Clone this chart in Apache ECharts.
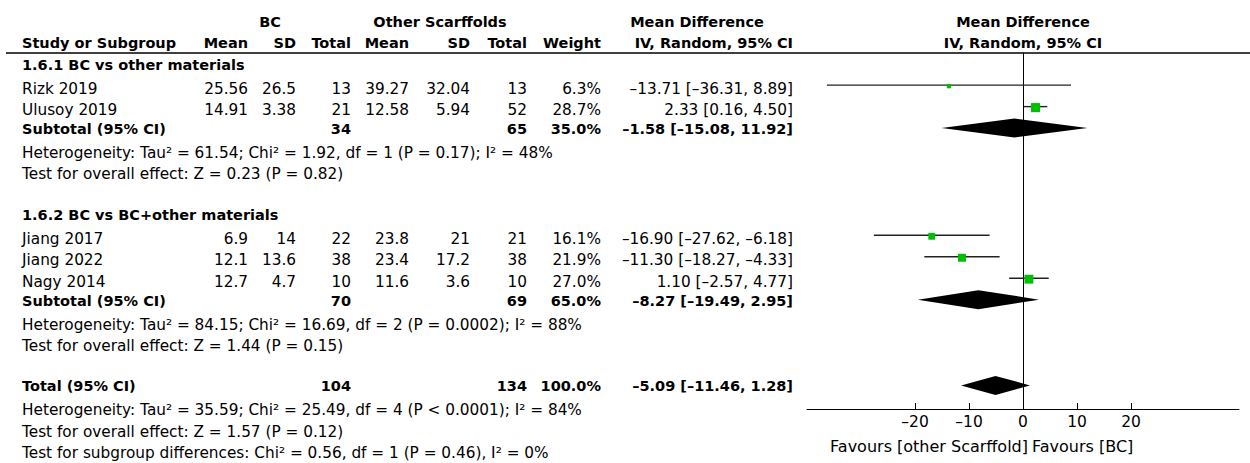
<!DOCTYPE html>
<html>
<head>
<meta charset="utf-8">
<script src="https://cdn.jsdelivr.net/npm/echarts@6.0.0/dist/echarts.min.js"></script>
<style>
  html, body { margin: 0; background: #fff; }
  #chart { width: 1250px; height: 463px; }
</style>
</head>
<body>
<div id="chart"></div>
<script>
"use strict";

// ---- data ----
const studies  = ["Rizk 2019", "Ulusoy 2019", "Jiang 2017", "Jiang 2022", "Nagy 2014"];
const studyRow = [0, 1, 7, 8, 9];
const bcMean   = [25.56, 14.91, 6.9, 12.1, 12.7];
const bcSd     = [26.5, 3.38, 14, 13.6, 4.7];
const bcN      = [13, 21, 22, 38, 10];
const otMean   = [39.27, 12.58, 23.8, 23.4, 11.6];
const otSd     = [32.04, 5.94, 21, 17.2, 3.6];
const otN      = [13, 52, 21, 38, 10];
const weight   = [6.3, 28.7, 16.1, 21.9, 27.0];
const md       = [-13.71, 2.33, -16.90, -11.30, 1.10];
const ciLo     = [-36.31, 0.16, -27.62, -18.27, -2.57];
const ciHi     = [8.89, 4.50, -6.18, -4.33, 4.77];

const poolLabels = ["Subtotal (95% CI)", "Subtotal (95% CI)", "Total (95% CI)"];
const poolRow    = [2, 10, 14];
const poolBcN    = [34, 70, 104];
const poolOtN    = [65, 69, 134];
const poolWeight = [35.0, 65.0, 100.0];
const poolMd     = [-1.58, -8.27, -5.09];
const poolLo     = [-15.08, -19.49, -11.46];
const poolHi     = [11.92, 2.95, 1.28];

const groups    = ["1.6.1 BC vs other materials", "1.6.2 BC vs BC+other materials"];
const groupRow  = [-1, 6];
const notes = [
  "Heterogeneity: Tau² = 61.54; Chi² = 1.92, df = 1 (P = 0.17); I² = 48%",
  "Test for overall effect: Z = 0.23 (P = 0.82)",
  "Heterogeneity: Tau² = 84.15; Chi² = 16.69, df = 2 (P = 0.0002); I² = 88%",
  "Test for overall effect: Z = 1.44 (P = 0.15)",
  "Heterogeneity: Tau² = 35.59; Chi² = 25.49, df = 4 (P < 0.0001); I² = 84%",
  "Test for overall effect: Z = 1.57 (P = 0.12)",
  "Test for subgroup differences: Chi² = 0.56, df = 1 (P = 0.46), I² = 0%",
];
const noteRow = [3, 4, 11, 12, 15, 16, 17];
const ticks = [-20, -10, 0, 10, 20];

// ---- style ----
const FONT = '"DejaVu Sans", Verdana, sans-serif';
const INK = "#000", GREEN = "#00bf00";
const DIAMOND_HALF = 9.5;

const dash = (v) => (v < 0 ? "–" : "") + Math.abs(v);
const f2 = (v) => (v < 0 ? "–" : "") + Math.abs(v).toFixed(2);
const ci = (m, l, h) => `${f2(m)} [${f2(l)}, ${f2(h)}]`;

const chart = echarts.init(document.getElementById("chart"), null, { renderer: "svg" });

chart.setOption({
  animation: false,
  textStyle: { fontFamily: FONT, color: INK },
  grid: { left: 807, right: 11, top: 53, bottom: 54, outerBoundsMode: "none" },
  xAxis: {
    type: "value", min: -40, max: 40,
    axisLine: { onZero: false, lineStyle: { color: INK, width: 1 } },
    axisTick: { inside: true, length: 6, customValues: ticks, lineStyle: { color: INK } },
    axisLabel: { customValues: ticks, formatter: dash, color: INK, fontSize: 15.5, margin: 5, fontFamily: FONT },
    splitLine: { show: false },
  },
  yAxis: {
    type: "value", inverse: true, min: -1.5, max: 15.1,
    axisLine: { show: true, onZero: true, lineStyle: { color: INK, width: 1 } },
    axisTick: { show: false }, axisLabel: { show: false }, splitLine: { show: false },
  },
  series: [
    {
      // study CI whisker + weighted square
      type: "custom",
      data: studies.map((s, i) => [md[i], ciLo[i], ciHi[i], studyRow[i], weight[i]]),
      encode: { x: 0, y: 3 },
      renderItem(params, api) {
        const r = api.value(3);
        const a = api.coord([api.value(1), r]);
        const b = api.coord([api.value(2), r]);
        const c = api.coord([api.value(0), r]);
        const s = 1.7 * Math.sqrt(api.value(4));
        return {
          type: "group",
          children: [
            { type: "line", shape: { x1: a[0], y1: a[1], x2: b[0], y2: b[1] },
              style: { stroke: "#222", lineWidth: 1.4 } },
            { type: "rect", shape: { x: c[0] - s / 2, y: c[1] - s / 2 + 1, width: s, height: s },
              style: { fill: GREEN } },
          ],
        };
      },
    },
    {
      // pooled estimates as diamonds
      type: "custom",
      data: poolMd.map((m, i) => [m, poolLo[i], poolHi[i], poolRow[i]]),
      encode: { x: 0, y: 3 },
      renderItem(params, api) {
        const r = api.value(3);
        const l = api.coord([api.value(1), r]);
        const h = api.coord([api.value(2), r]);
        const c = api.coord([api.value(0), r]);
        return {
          type: "polygon",
          shape: { points: [[l[0], c[1]], [c[0], c[1] - DIAMOND_HALF], [h[0], c[1]], [c[0], c[1] + DIAMOND_HALF]] },
          style: { fill: INK },
        };
      },
    },
  ],
});

// ---- table text, placed on the plot's own row scale ----
const px = (x, r) => chart.convertToPixel({ xAxisIndex: 0, yAxisIndex: 0 }, [x, r]);
const rowY = (r) => px(0, r)[1];
const zeroX = px(0, 0)[0];

function txt(text, x, r, align, bold) {
  return {
    type: "text", silent: true,
    style: {
      text: String(text), x, y: rowY(r) + (bold ? 1 : 3.5),
      textAlign: align, textVerticalAlign: "middle", verticalAlign: "middle",
      font: (bold ? "bold 14.5px " : "15.3px ") + FONT, fill: INK,
    },
  };
}

const COL = { study: 22, bcMean: 248, bcSd: 296, bcN: 351, otMean: 409, otSd: 470, otN: 527, weight: 601, ci: 793 };
const els = [];

// headers
els.push(txt("BC", 270, -3, "center", true));
els.push(txt("Other Scarffolds", 440, -3, "center", true));
els.push(txt("Mean Difference", 697, -3, "center", true));
els.push(txt("Mean Difference", zeroX, -3, "center", true));
els.push(txt("Study or Subgroup", COL.study, -2, "left", true));
[["Mean", COL.bcMean], ["SD", COL.bcSd], ["Total", COL.bcN], ["Mean", COL.otMean],
 ["SD", COL.otSd], ["Total", COL.otN], ["Weight", COL.weight], ["IV, Random, 95% CI", COL.ci]]
  .forEach(([t, x]) => els.push(txt(t, x, -2, "right", true)));
els.push(txt("IV, Random, 95% CI", zeroX, -2, "center", true));

groups.forEach((g, i) => els.push(txt(g, COL.study, groupRow[i], "left", true)));

studies.forEach((s, i) => {
  const r = studyRow[i];
  els.push(txt(s, COL.study, r, "left"));
  els.push(txt(bcMean[i], COL.bcMean, r, "right"));
  els.push(txt(bcSd[i], COL.bcSd, r, "right"));
  els.push(txt(bcN[i], COL.bcN, r, "right"));
  els.push(txt(otMean[i], COL.otMean, r, "right"));
  els.push(txt(otSd[i], COL.otSd, r, "right"));
  els.push(txt(otN[i], COL.otN, r, "right"));
  els.push(txt(weight[i].toFixed(1) + "%", COL.weight, r, "right"));
  els.push(txt(ci(md[i], ciLo[i], ciHi[i]), COL.ci, r, "right"));
});

poolLabels.forEach((lab, i) => {
  const r = poolRow[i];
  els.push(txt(lab, COL.study, r, "left", true));
  els.push(txt(poolBcN[i], COL.bcN, r, "right", true));
  els.push(txt(poolOtN[i], COL.otN, r, "right", true));
  els.push(txt(poolWeight[i].toFixed(1) + "%", COL.weight, r, "right", true));
  els.push(txt(ci(poolMd[i], poolLo[i], poolHi[i]), COL.ci, r, "right", true));
});

notes.forEach((n, i) => els.push(txt(n, COL.study, noteRow[i], "left")));

// rule under the column headers
const topY = rowY(-1.5);
els.push({ type: "line", silent: true, shape: { x1: 6, y1: topY, x2: 1250, y2: topY },
           style: { stroke: INK, lineWidth: 1.3 } });

// favours captions under the axis
const favY = rowY(15.1) + 37;
els.push({ type: "text", silent: true, style: { text: "Favours [other Scarffold]", x: zeroX + 5, y: favY,
  textAlign: "right", textVerticalAlign: "middle", verticalAlign: "middle", font: "16px " + FONT, fill: INK } });
els.push({ type: "text", silent: true, style: { text: "Favours [BC]", x: zeroX + 9, y: favY,
  textAlign: "left", textVerticalAlign: "middle", verticalAlign: "middle", font: "16px " + FONT, fill: INK } });

chart.setOption({ graphic: { elements: els } });
</script>
</body>
</html>
